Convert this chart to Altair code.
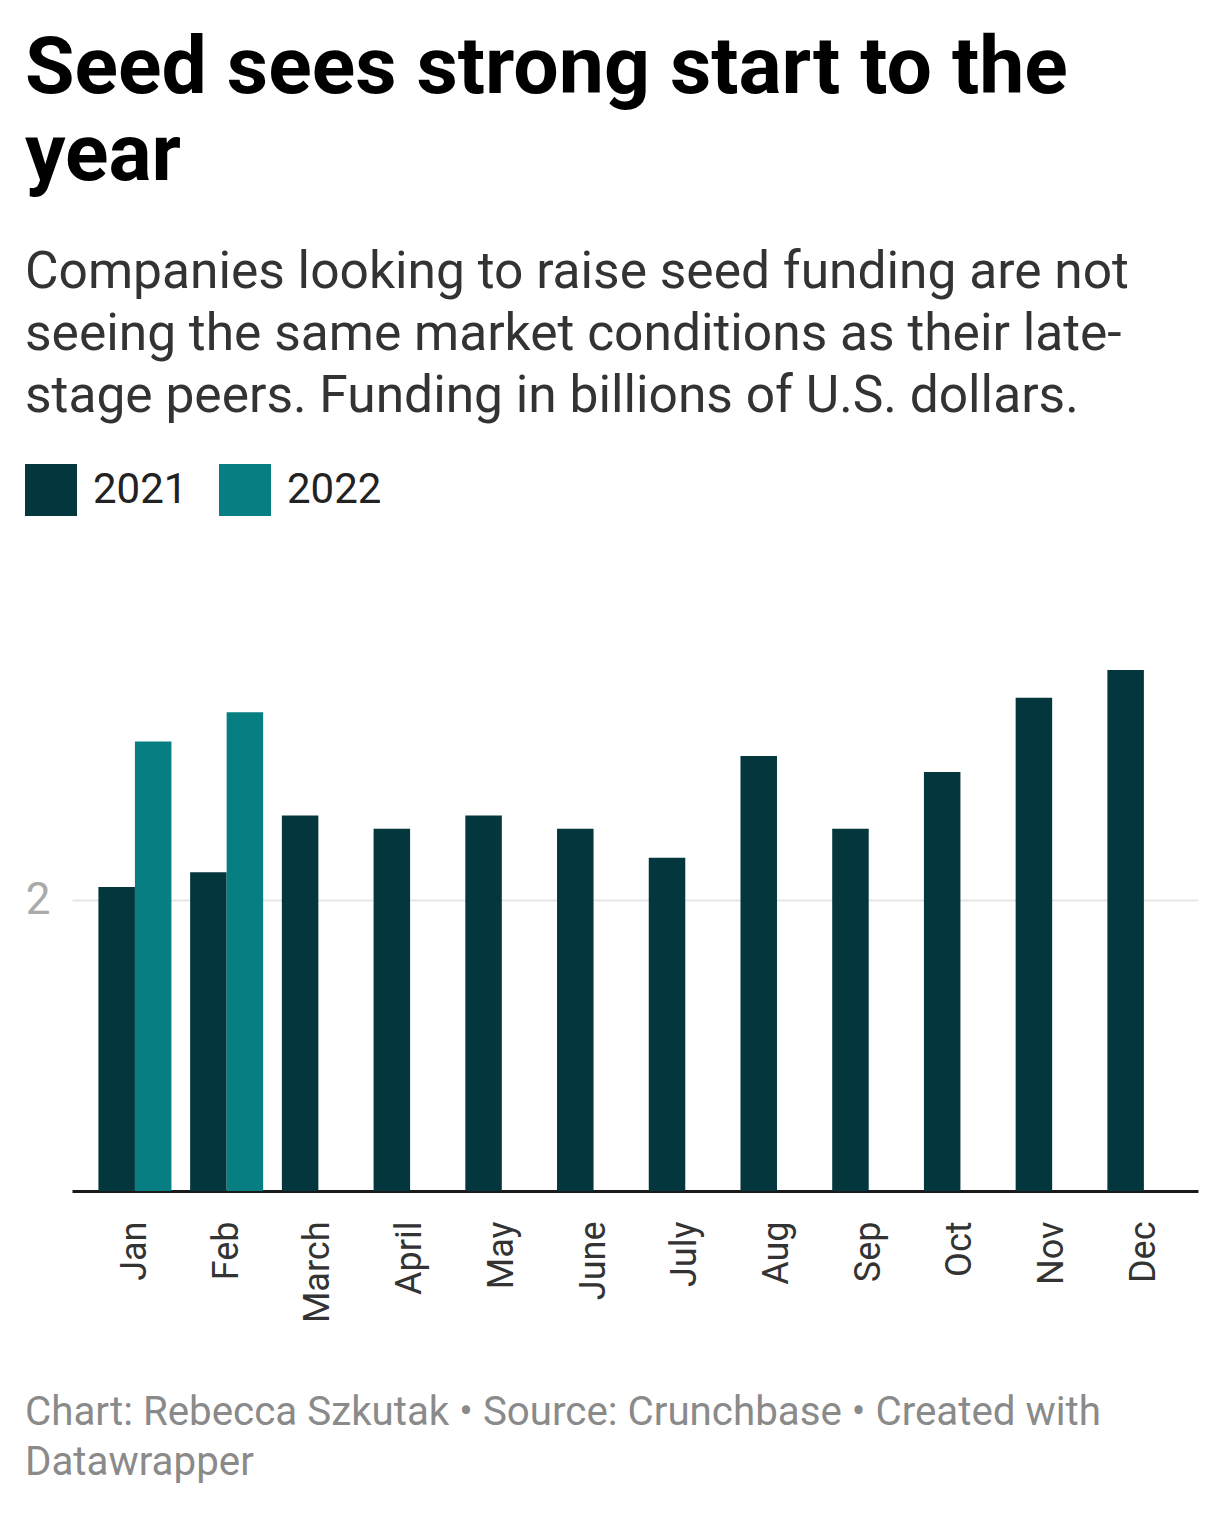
import altair as alt
import pandas as pd

months = ["Jan", "Feb", "March", "April", "May", "June", "July", "Aug", "Sep", "Oct", "Nov", "Dec"]
vals_2021 = [2.09, 2.19, 2.58, 2.49, 2.58, 2.49, 2.29, 2.99, 2.49, 2.88, 3.39, 3.58]
months_2022 = ["Jan", "Feb"]
vals_2022 = [3.09, 3.29]
years = ["2021", "2022"]
colors = ["#03363d", "#077f82"]
y_ticks = [2]

title_lines = ["Seed sees strong start to the", "year"]
subtitle_lines = [
    "Companies looking to raise seed funding are not",
    "seeing the same market conditions as their late-",
    "stage peers. Funding in billions of U.S. dollars.",
]
footer_lines = [
    "Chart: Rebecca Szkutak \u2022 Source: Crunchbase \u2022 Created with",
    "Datawrapper",
]

rows = [{"month": m, "year": "2021", "value": v} for m, v in zip(months, vals_2021)]
rows += [{"month": m, "year": "2022", "value": v} for m, v in zip(months_2022, vals_2022)]
df = pd.DataFrame(rows)

FONT = "Roboto"

bars = alt.Chart(df).mark_bar().encode(
    x=alt.X(
        "month:N",
        sort=months,
        scale=alt.Scale(paddingInner=0.204, paddingOuter=0.24, align=0.6),
        axis=alt.Axis(
            title=None,
            labelAngle=270,
            labelAlign="right",
            labelBaseline="middle",
            labelFontSize=36,
            labelColor="#333333",
            labelFont=FONT,
            labelPadding=30,
            ticks=False,
            domainColor="#1a1a1a",
            domainWidth=3,
            grid=False,
        ),
    ),
    xOffset=alt.XOffset("year:N", sort=years, scale=alt.Scale(paddingInner=0, paddingOuter=0)),
    y=alt.Y(
        "value:Q",
        scale=alt.Scale(domain=[0, 4]),
        axis=alt.Axis(
            title=None,
            values=y_ticks,
            domain=False,
            ticks=False,
            grid=True,
            gridColor="#e6e6e6",
            gridWidth=2,
            labelFontSize=44,
            labelColor="#aaaaaa",
            labelFont=FONT,
            labelPadding=22,
        ),
    ),
    color=alt.Color(
        "year:N",
        scale=alt.Scale(domain=years, range=colors),
        legend=alt.Legend(
            title=None,
            orient="none",
            legendX=-47,
            legendY=-145,
            direction="horizontal",
            symbolType="square",
            symbolSize=2704,
            symbolStrokeWidth=0,
            labelFontSize=42,
            labelFont=FONT,
            labelColor="#222222",
            labelOffset=16,
            columnPadding=31,
        ),
    ),
)

footer = alt.Chart(pd.DataFrame({"t": ["\n".join(footer_lines)]})).mark_text(
    align="left",
    baseline="alphabetic",
    font=FONT,
    fontSize=40.3,
    color="#8a8a8a",
    lineBreak="\n",
    lineHeight=50,
).encode(
    text="t:N",
    x=alt.value(-47),
    y=alt.value(816),
)

chart = alt.layer(bars, footer).properties(
    width=1126,
    height=582,
    padding={"left": 64, "top": 601, "right": 10, "bottom": 300},
    autosize=alt.AutoSizeParams(type="none"),
    title=alt.TitleParams(
        text=title_lines,
        subtitle=subtitle_lines,
        anchor="start",
        frame="group",
        dx=-47,
        offset=42,
        font=FONT,
        fontSize=80.5,
        fontWeight="bold",
        color="#000000",
        lineHeight=87,
        subtitleFont=FONT,
        subtitleFontSize=51.5,
        subtitleColor="#333333",
        subtitleLineHeight=62,
        subtitlePadding=50,
    ),
).configure_view(stroke=None)

chart.save("out.html", embed_options={"renderer": "svg", "actions": False})
